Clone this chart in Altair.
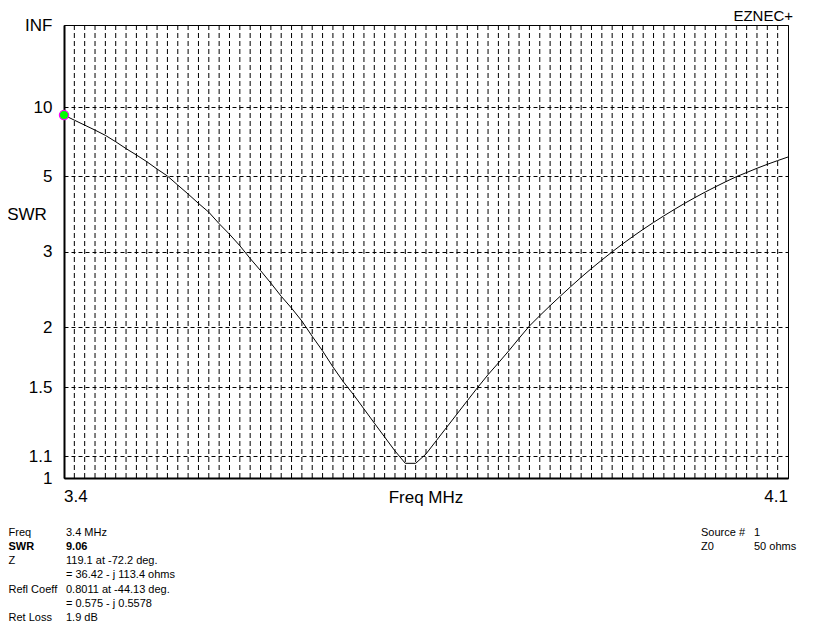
import altair as alt
import pandas as pd

# ---- data (SWR vs frequency, 0.01 MHz steps) ----
freq_mhz = [3.40, 3.41, 3.42, 3.43, 3.44, 3.45, 3.46, 3.47, 3.48, 3.49,
            3.50, 3.51, 3.52, 3.53, 3.54, 3.55, 3.56, 3.57, 3.58, 3.59,
            3.60, 3.61, 3.62, 3.63, 3.64, 3.65, 3.66, 3.67, 3.68, 3.69,
            3.70, 3.71, 3.72, 3.73, 3.74, 3.75, 3.76, 3.77, 3.78, 3.79,
            3.80, 3.81, 3.82, 3.83, 3.84, 3.85, 3.86, 3.87, 3.88, 3.89,
            3.90, 3.91, 3.92, 3.93, 3.94, 3.95, 3.96, 3.97, 3.98, 3.99,
            4.00, 4.01, 4.02, 4.03, 4.04, 4.05, 4.06, 4.07, 4.08, 4.09,
            4.10]
swr = [9.06, 8.52, 8.05, 7.62, 7.21, 6.76, 6.33, 5.97, 5.63, 5.29,
       5.00, 4.66, 4.36, 4.08, 3.84, 3.56, 3.33, 3.105, 2.88, 2.69,
       2.51, 2.34, 2.20, 2.06, 1.91, 1.78, 1.65, 1.54, 1.45, 1.36,
       1.276, 1.199, 1.127, 1.067, 1.067, 1.112, 1.18, 1.252, 1.329, 1.412,
       1.50, 1.591, 1.681, 1.78, 1.892, 2.01, 2.117, 2.228, 2.343, 2.464,
       2.591, 2.721, 2.855, 2.994, 3.137, 3.284, 3.435, 3.589, 3.748, 3.910,
       4.079, 4.249, 4.425, 4.602, 4.785, 4.972, 5.142, 5.323, 5.504, 5.682,
       5.863]

swr_ticks = [1, 1.1, 1.5, 2, 3, 5, 10]      # plus INF at the top
freq_labels = ["3.4", "4.1"]

info_left = [("Freq", "3.4 MHz"),
             ("SWR", "9.06"),
             ("Z", "119.1 at -72.2 deg."),
             ("", "= 36.42 - j 113.4 ohms"),
             ("Refl Coeff", "0.8011 at -44.13 deg."),
             ("", "= 0.575 - j 0.5578"),
             ("Ret Loss", "1.9 dB")]
info_right = [("Source #", "1"), ("Z0", "50 ohms")]

FONT = "Liberation Sans"
W, H = 724, 453

df = pd.DataFrame({"freq": freq_mhz, "swr": swr})
grid_df = pd.DataFrame({"freq": freq_mhz[1:-1]})

# reflection-coefficient scale used by EZNEC for the SWR axis
y_vals = [(s - 1) / (s + 1) for s in swr_ticks] + [1.0]

xscale = alt.Scale(domain=[3.4, 4.1], nice=False, zero=False)
yscale = alt.Scale(domain=[0, 1], nice=False, zero=False)

x_axis = alt.Axis(labels=False, ticks=False, title=None, grid=False,
                  domain=True, domainColor="black", domainWidth=2)
y_axis = alt.Axis(values=y_vals, ticks=False, title=None,
                  grid=True, gridDash=[4, 3], gridColor="black",
                  gridOpacity=1, gridWidth=1,
                  domain=True, domainColor="black", domainWidth=2,
                  labelExpr="datum.value >= 0.999 ? 'INF' : format((1 + datum.value) / (1 - datum.value), '.2~f')",
                  labelFont=FONT, labelFontSize=17, labelColor="black",
                  labelPadding=12, labelOverlap=False,
                  labelBaseline="middle")

vgrid = alt.Chart(grid_df).mark_rule(
    color="black", strokeWidth=1, strokeDash=[5, 3]
).encode(x=alt.X("freq:Q", scale=xscale, axis=x_axis))

base = alt.Chart(df).transform_calculate(
    rho="(datum.swr - 1) / (datum.swr + 1)"
)

line = base.mark_line(color="black", strokeWidth=1, clip=False).encode(
    x=alt.X("freq:Q", scale=xscale, axis=x_axis),
    y=alt.Y("rho:Q", scale=yscale, axis=y_axis),
)

marker = base.transform_filter("datum.freq <= 3.4001").mark_point(
    filled=True, fill="#00ff00", stroke="#ff00ff", strokeWidth=1.2,
    size=85, opacity=1, clip=False
).encode(x=alt.X("freq:Q", scale=xscale, axis=x_axis),
         y=alt.Y("rho:Q", scale=yscale, axis=y_axis))

layers = [vgrid, line, marker]

# x tick labels (first and last frequency)
lab_df = pd.DataFrame({"freq": [freq_mhz[0], freq_mhz[-1]], "lab": freq_labels})
layers.append(alt.Chart(lab_df).transform_filter("datum.freq < 3.5").mark_text(
    align="left", baseline="middle", font=FONT, fontSize=17, color="black"
).encode(x=alt.X("freq:Q", scale=xscale, axis=x_axis), y=alt.value(472), text="lab:N"))
layers.append(alt.Chart(lab_df).transform_filter("datum.freq > 4.0").mark_text(
    align="right", baseline="middle", font=FONT, fontSize=17, color="black"
).encode(x=alt.X("freq:Q", scale=xscale, axis=x_axis), y=alt.value(472), text="lab:N"))

def txt(s, x, y, align="left", size=17, weight="normal", baseline="middle"):
    return alt.Chart(pd.DataFrame({"t": [s]})).mark_text(
        align=align, baseline=baseline, font=FONT, fontSize=size,
        fontWeight=weight, color="black"
    ).encode(x=alt.value(x), y=alt.value(y), text="t:N")

layers.append(txt("Freq MHz", W / 2, 473, align="center"))
layers.append(txt("SWR", -37, 190, align="center"))
layers.append(txt("EZNEC+", 729, -16, align="right", size=15, baseline="top"))

for i, (k, v) in enumerate(info_left):
    wt = "bold" if k == "SWR" else "normal"
    y = 507.5 + 14.3 * i
    if k:
        layers.append(txt(k, -55.5, y, size=11, weight=wt))
    layers.append(txt(v, 2, y, size=11, weight=wt))

for i, (k, v) in enumerate(info_right):
    y = 507.5 + 14.3 * i
    layers.append(txt(k, 637, y, size=11))
    layers.append(txt(v, 690, y, size=11))

chart = alt.layer(*layers).properties(
    width=W, height=H,
    autosize=alt.AutoSizeParams(type="none"),
    padding={"left": 56, "top": 17, "right": 36, "bottom": 147},
    background="white",
).configure_view(stroke="black", strokeWidth=1)

chart.save("out.html", embed_options={"renderer": "svg", "actions": False})
